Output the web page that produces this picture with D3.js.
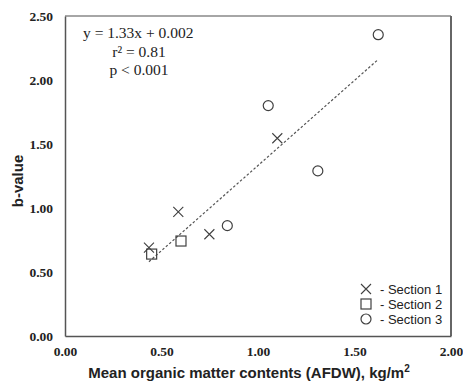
<!DOCTYPE html>
<html><head><meta charset="utf-8">
<script src="https://cdn.jsdelivr.net/npm/d3@7"></script>
<style>body{margin:0;background:#fff}svg{display:block}</style>
</head><body>
<svg id="c" width="463" height="383"></svg>
<script>
const xTicks = [0, 0.5, 1.0, 1.5, 2.0];
const yTicks = [0, 0.5, 1.0, 1.5, 2.0, 2.5];
const section1 = [[0.435, 0.69], [0.587, 0.97], [0.748, 0.795], [1.10, 1.545]];
const section2 = [[0.449, 0.64], [0.601, 0.742]];
const section3 = [[0.841, 0.862], [1.053, 1.80], [1.31, 1.29], [1.623, 2.354]];
const fitSlope = 1.33, fitIntercept = 0.002, fitRange = [0.435, 1.62];
const legendLabels = ["- Section 1", "- Section 2", "- Section 3"];
const statLines = ["y = 1.33x + 0.002", "r\u00b2 = 0.81", "p < 0.001"];

const svg = d3.select("#c");
const L = 65, R = 451, T = 16, B = 336;
const x = d3.scaleLinear().domain([0, 2]).range([L, R]);
const y = d3.scaleLinear().domain([0, 2.5]).range([B, T]);
const col = "#404040";

// frame
svg.append("line").attr("x1", L).attr("x2", R).attr("y1", T).attr("y2", T).attr("stroke", "#888").attr("stroke-width", 1.5);
svg.append("line").attr("x1", R).attr("x2", R).attr("y1", T).attr("y2", B).attr("stroke", "#666").attr("stroke-width", 2);

const xa = svg.append("g").attr("transform", `translate(0,${B})`)
  .call(d3.axisBottom(x).tickValues(xTicks).tickFormat(d3.format(".2f")).tickSize(0).tickPadding(10));
const ya = svg.append("g").attr("transform", `translate(${L},0)`)
  .call(d3.axisLeft(y).tickValues(yTicks).tickFormat(d3.format(".2f")).tickSize(0).tickPadding(12));
[xa, ya].forEach(a => {
  a.select(".domain").attr("stroke", "#555").attr("stroke-width", 1.5);
  a.selectAll("text").attr("font-family", "Liberation Serif, Times New Roman, serif")
    .attr("font-weight", "bold").attr("font-size", 13.5).attr("fill", "#222");
});

// fit line
svg.append("line")
  .attr("x1", x(fitRange[0])).attr("y1", y(fitSlope * fitRange[0] + fitIntercept))
  .attr("x2", x(fitRange[1])).attr("y2", y(fitSlope * fitRange[1] + fitIntercept))
  .attr("stroke", "#555").attr("stroke-width", 1.2).attr("stroke-dasharray", "2.5,2");

const s = 5;
function cross(g, cx, cy) {
  g.append("path").attr("d", `M${cx - s},${cy - s}L${cx + s},${cy + s}M${cx - s},${cy + s}L${cx + s},${cy - s}`)
    .attr("stroke", col).attr("stroke-width", 1.1).attr("fill", "none");
}
function square(g, cx, cy) {
  g.append("rect").attr("x", cx - s).attr("y", cy - s).attr("width", 2 * s).attr("height", 2 * s)
    .attr("stroke", col).attr("stroke-width", 1.2).attr("fill", "none");
}
function circle(g, cx, cy) {
  g.append("circle").attr("cx", cx).attr("cy", cy).attr("r", s)
    .attr("stroke", col).attr("stroke-width", 1.2).attr("fill", "none");
}
const pts = svg.append("g");
section1.forEach(d => cross(pts, x(d[0]), y(d[1])));
section2.forEach(d => square(pts, x(d[0]), y(d[1])));
section3.forEach(d => circle(pts, x(d[0]), y(d[1])));

// legend
const lg = svg.append("g");
const fns = [cross, square, circle];
[289, 304, 319].forEach((ly, i) => {
  fns[i](lg, 366, ly);
  lg.append("text").attr("x", 380).attr("y", ly).attr("dy", "0.35em")
    .attr("font-family", "Liberation Sans, Arial, sans-serif").attr("font-size", 13).attr("fill", "#222")
    .text(legendLabels[i]);
});

// stats
const st = svg.append("g").attr("font-family", "Liberation Serif, Times New Roman, serif").attr("font-size", 15.5).attr("fill", "#222");
st.append("text").attr("x", 83).attr("y", 38).text(statLines[0]);
st.append("text").attr("x", 139).attr("y", 57).attr("text-anchor", "middle").text(statLines[1]);
st.append("text").attr("x", 139).attr("y", 75).attr("text-anchor", "middle").text(statLines[2]);

// axis titles
svg.append("text").attr("x", 249).attr("y", 378).attr("text-anchor", "middle")
  .attr("font-family", "Liberation Sans, Arial, sans-serif").attr("font-weight", "bold").attr("font-size", 15).attr("fill", "#222")
  .html('Mean organic matter contents (AFDW), kg/m<tspan dy="-6" font-size="10">2</tspan>');
svg.append("text").attr("transform", "translate(23,181) rotate(-90)").attr("text-anchor", "middle")
  .attr("font-family", "Liberation Sans, Arial, sans-serif").attr("font-weight", "bold").attr("font-size", 15).attr("fill", "#222")
  .text("b-value");
</script>
</body></html>
